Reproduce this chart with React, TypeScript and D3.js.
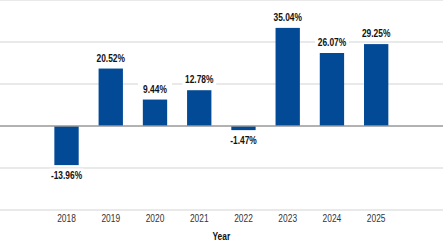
import * as React from "react";
import * as d3 from "d3";

const years = ["2018", "2019", "2020", "2021", "2022", "2023", "2024", "2025"];
const returns = [-13.96, 20.52, 9.44, 12.78, -1.47, 35.04, 26.07, 29.25];
const gridTicks = [-30, -15, 0, 15, 30, 45];
const xTitle = "Year";

const width = 443;
const height = 247;
const barColor = "#024a96";
const font = "'Liberation Sans', Arial, sans-serif";
// condensed look for all labels
const squeeze = 0.8;

const fmt = (v: number) => `${v.toFixed(2)}%`;

const Narrow: React.FC<{ x: number; y: number; children: React.ReactNode } & React.SVGProps<SVGTextElement>> = ({
  x,
  y,
  children,
  ...rest
}) => (
  <text transform={`translate(${x},${y}) scale(${squeeze},1)`} dy="0.35em" textAnchor="middle" {...rest}>
    {children}
  </text>
);

const App: React.FC = () => {
  const x = d3.scaleBand<string>().domain(years).range([44.4, 398.3]).paddingInner(0.45).paddingOuter(0.225);
  const y = d3.scaleLinear().domain([-30, 45]).range([210, 0]);
  const bw = x.bandwidth();

  return (
    <svg
      width={width}
      height={height}
      style={{ position: "absolute", left: 0, top: 0, background: "#fff" }}
      fontFamily={font}
    >
      {/* horizontal gridlines */}
      <g stroke="#e2e2e2" strokeWidth={1.5}>
        {gridTicks
          .filter((t) => t !== 0)
          .map((t) => (
            <line key={t} x1={0} x2={width} y1={y(t)} y2={y(t)} />
          ))}
      </g>

      {/* bars */}
      <g fill={barColor}>
        {returns.map((v, i) => (
          <rect
            key={years[i]}
            x={x(years[i])}
            y={Math.min(y(v), y(0))}
            width={bw}
            height={Math.abs(y(v) - y(0))}
          />
        ))}
      </g>

      {/* zero baseline */}
      <line x1={0} x2={width} y1={y(0)} y2={y(0)} stroke="#999" strokeWidth={1.5} />

      {/* value labels on white boxes */}
      <g fontSize={10.5} fontWeight="bold" fill="#111">
        {returns.map((v, i) => {
          const cx = (x(years[i]) ?? 0) + bw / 2;
          const cy = v >= 0 ? y(v) - 10.5 : y(v) + 10.5;
          return (
            <g key={years[i]}>
              <rect x={cx - 17} y={cy - 7} width={34} height={14} fill="#fff" />
              <Narrow x={cx} y={cy}>
                {fmt(v)}
              </Narrow>
            </g>
          );
        })}
      </g>

      {/* year tick labels */}
      <g fontSize={10.5} fill="#333">
        {years.map((yr) => (
          <Narrow key={yr} x={(x(yr) ?? 0) + bw / 2} y={218}>
            {yr}
          </Narrow>
        ))}
      </g>

      <Narrow x={(44.4 + 398.3) / 2} y={236.5} fontSize={10.5} fontWeight="bold" fill="#111">
        {xTitle}
      </Narrow>
    </svg>
  );
};

export default App;
